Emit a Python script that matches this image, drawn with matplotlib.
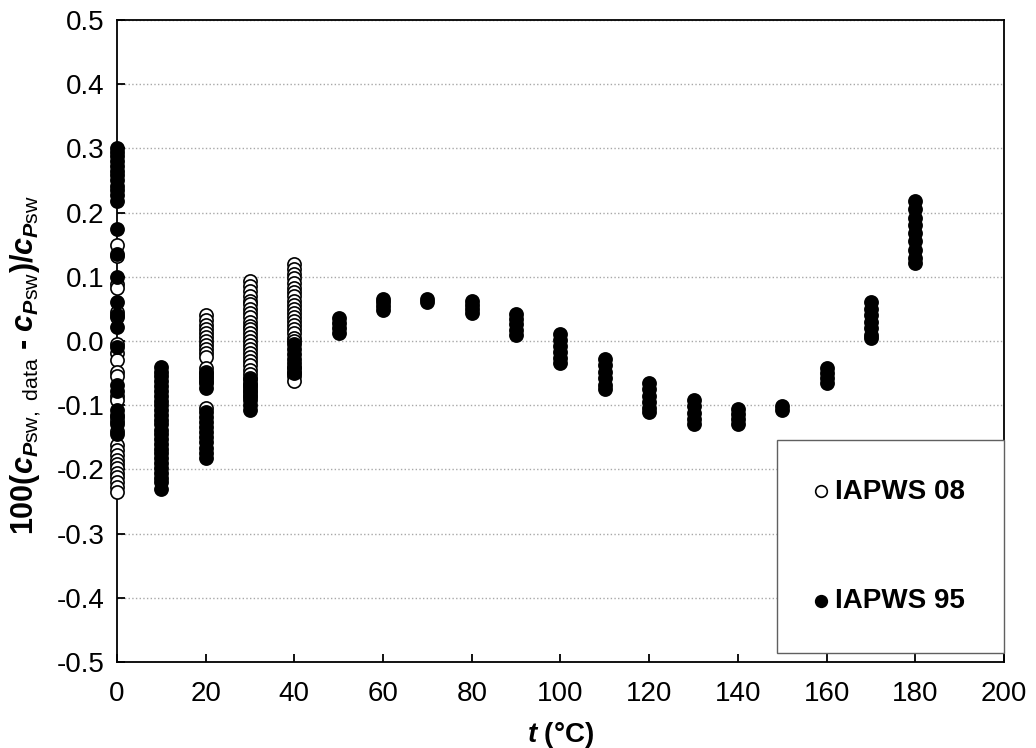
import numpy as np
import matplotlib
matplotlib.use('Agg')
import matplotlib.pyplot as plt
from matplotlib.ticker import FormatStrFormatter, MultipleLocator

plt.rcParams['font.family'] = ['Liberation Sans', 'DejaVu Sans']
plt.rcParams['axes.unicode_minus'] = False
plt.rcParams['mathtext.fontset'] = 'custom'
plt.rcParams['mathtext.it'] = 'Liberation Sans:italic:bold'
plt.rcParams['mathtext.rm'] = 'Liberation Sans'
plt.rcParams['mathtext.bf'] = 'Liberation Sans:bold'

# IAPWS 08 (open circles), deviation per temperature
open_t = [0, 20, 30, 40]
open_0 = [0.150, 0.132, 0.088, 0.082, 0.045, 0.038, -0.005, -0.018, -0.030, -0.048, -0.055,
          -0.085, -0.092, -0.118, -0.125, -0.140, -0.162, -0.170, -0.178, -0.185, -0.192,
          -0.198, -0.205, -0.212, -0.220, -0.228, -0.235]
open_20 = [0.040, 0.032, 0.025, 0.019, 0.012, 0.006, 0.000, -0.006, -0.012, -0.018, -0.025,
           -0.042, -0.048, -0.055, -0.062, -0.105]
open_30 = [0.093, 0.085, 0.078, 0.070, 0.063, 0.057, 0.050, 0.043, 0.037, 0.030, 0.024, 0.018,
           0.012, 0.006, 0.000, -0.006, -0.012, -0.018, -0.025, -0.031, -0.038, -0.045, -0.052,
           -0.058, -0.065, -0.072, -0.080, -0.087]
open_40 = [0.120, 0.112, 0.105, 0.098, 0.090, 0.083, 0.076, 0.070, 0.063, 0.056, 0.050, 0.044,
           0.038, 0.031, 0.025, 0.018, 0.012, 0.005, 0.000, -0.040, -0.048, -0.055, -0.062]
open_vals = [open_0, open_20, open_30, open_40]

# IAPWS 95 (filled circles)
fill_t = [0, 10, 20, 30, 40, 50, 60, 70, 80, 90, 100, 110, 120, 130, 140, 150, 160, 170, 180]
fill_vals = [
    [0.300, 0.295, 0.288, 0.280, 0.272, 0.265, 0.258, 0.250, 0.242, 0.235, 0.228, 0.218, 0.175,
     0.135, 0.100, 0.060, 0.040, 0.022, -0.010, -0.068, -0.078, -0.108, -0.115, -0.130, -0.145],
    [-0.040, -0.048, -0.055, -0.063, -0.070, -0.078, -0.085, -0.093, -0.100, -0.108, -0.115,
     -0.123, -0.130, -0.138, -0.145, -0.153, -0.160, -0.168, -0.175, -0.183, -0.190, -0.198,
     -0.205, -0.213, -0.220, -0.230],
    [-0.050, -0.058, -0.066, -0.074, -0.110, -0.118, -0.126, -0.134, -0.142, -0.150, -0.158,
     -0.166, -0.174, -0.182],
    [-0.060, -0.068, -0.076, -0.084, -0.092, -0.100, -0.108],
    [-0.005, -0.012, -0.020, -0.028, -0.035, -0.042, -0.050],
    [0.036, 0.028, 0.020, 0.012],
    [0.066, 0.060, 0.054, 0.048],
    [0.066, 0.061],
    [0.062, 0.056, 0.050, 0.044],
    [0.042, 0.034, 0.026, 0.017, 0.009],
    [0.011, 0.002, -0.008, -0.017, -0.026, -0.035],
    [-0.028, -0.038, -0.048, -0.058, -0.068, -0.075],
    [-0.065, -0.075, -0.085, -0.095, -0.105, -0.110],
    [-0.092, -0.102, -0.112, -0.122, -0.130],
    [-0.106, -0.114, -0.122, -0.130],
    [-0.101, -0.108],
    [-0.042, -0.050, -0.058, -0.066],
    [0.060, 0.050, 0.040, 0.030, 0.020, 0.010, 0.004],
    [0.218, 0.205, 0.192, 0.180, 0.168, 0.155, 0.142, 0.130, 0.122],
]

def flatten(ts, vals):
    x = np.concatenate([np.full(len(v), t, dtype=float) for t, v in zip(ts, vals)])
    y = np.concatenate([np.array(v, dtype=float) for v in vals])
    return x, y

x_open, y_open = flatten(open_t, open_vals)
x_fill, y_fill = flatten(fill_t, fill_vals)

fig = plt.figure(figsize=(10.36, 7.48), dpi=100)
ax = fig.add_axes([0.1129, 0.115, 0.8562, 0.8583])

ms = 90
ax.scatter(x_open, y_open, s=ms, facecolor='white', edgecolor='black', linewidth=1.2,
           zorder=3, clip_on=False)
ax.scatter(x_fill, y_fill, s=ms, facecolor='black', edgecolor='black', linewidth=1.2,
           zorder=3, clip_on=False)

ax.set_xlim(0, 200)
ax.set_ylim(-0.5, 0.5)
ax.xaxis.set_major_locator(MultipleLocator(20))
ax.yaxis.set_major_locator(MultipleLocator(0.1))
ax.yaxis.set_major_formatter(FormatStrFormatter('%.1f'))
ax.grid(axis='y', color='#a8a8a8', linestyle=':', linewidth=1.0, zorder=0)
ax.set_axisbelow(True)

for sp in ax.spines.values():
    sp.set_linewidth(1.3)
ax.tick_params(direction='in', length=6, width=1.3, labelsize=20)
ax.tick_params(axis='y', pad=9)
ax.tick_params(axis='x', pad=14)

ax.set_xlabel(r'$t$ (°C)', fontsize=20, fontweight='bold', labelpad=9)
ax.set_ylabel(r'100($c_{P\mathrm{sw,\ data}}$ - $c_{P\mathrm{sw}}$)/$c_{P\mathrm{sw}}$',
              fontsize=22, fontweight='bold')
ax.yaxis.set_label_coords(-0.083, 0.4626)

# legend proxies
h1 = ax.scatter([], [], s=70, facecolor='white', edgecolor='black', linewidth=1.2)
h2 = ax.scatter([], [], s=70, facecolor='black', edgecolor='black', linewidth=1.2)
leg = ax.legend([h1, h2], ['IAPWS 08', 'IAPWS 95'], loc='lower right',
                bbox_to_anchor=(1.0, 9 / 642), borderaxespad=0, fancybox=False,
                frameon=True, labelspacing=3.0, borderpad=1.4, handlelength=0.4,
                handletextpad=0.3, prop={'weight': 'bold', 'size': 20})
leg.get_frame().set_edgecolor('#606060')
leg.get_frame().set_linewidth(1.0)
leg.get_frame().set_alpha(1)
leg.set_zorder(5)

fig.savefig('out.png', dpi=100)
